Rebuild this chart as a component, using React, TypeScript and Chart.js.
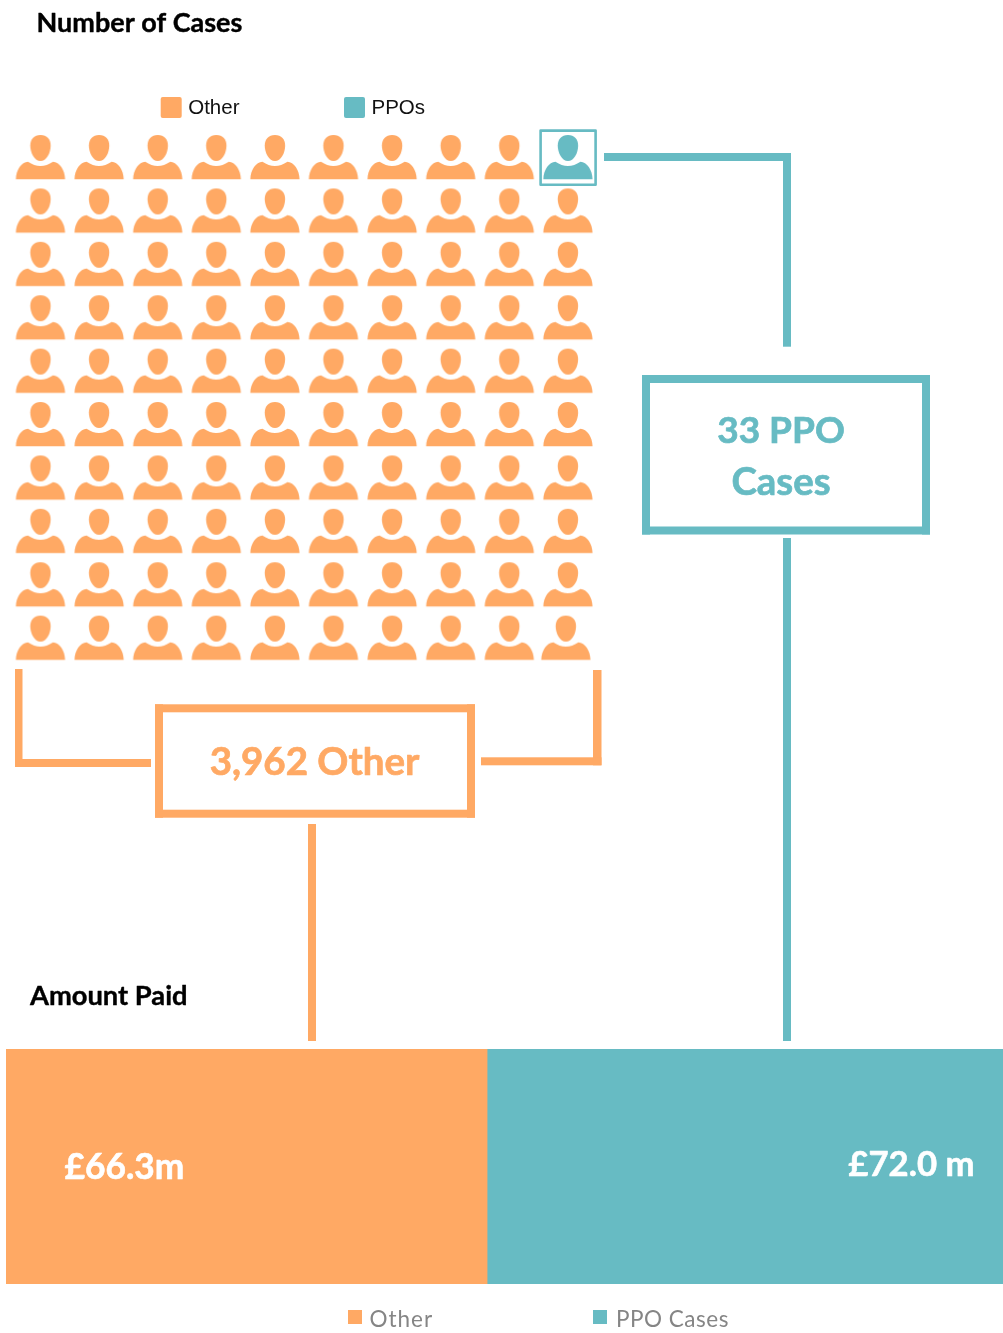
import React, { useEffect, useRef } from "react";
import { Chart, registerables } from "chart.js";

Chart.register(...registerables);

const ORANGE = "#FFA964";
const TEAL = "#67BBC3";
const LATO = "Lato, 'Open Sans', sans-serif";

// Pictogram grid: ten columns by ten rows, first icon of the first row is at (1,1)
const gridColumns = [1, 2, 3, 4, 5, 6, 7, 8, 9, 10];
const gridRows = [1, 2, 3, 4, 5, 6, 7, 8, 9, 10];
const ppoCell = { x: 10, y: 1 };
const lastRowLastColumn = 9.965; // this icon sits slightly left of its column in the picture

const pictogramLegend = ["Other", "PPOs"];
const amountCategories = ["Amount Paid"];
const amountSeriesNames = ["Other", "PPO Cases"];
const otherAmount = [66.3];
const ppoAmount = [72.0];
const amountLabels = ["£66.3m", "£72.0 m"];

const titleCases = "Number of Cases";
const titleAmount = "Amount Paid";
const calloutOther = ["3,962 Other"];
const calloutPpo = ["33 PPO", "Cases"];

function personIcon(color: string): HTMLCanvasElement {
  const c = document.createElement("canvas");
  c.width = 52;
  c.height = 48;
  const g = c.getContext("2d")!;
  g.translate(26, 24);
  g.fillStyle = color;
  // head
  g.beginPath();
  g.moveTo(0, -22);
  g.bezierCurveTo(6.5, -22, 10.2, -17.5, 10.2, -11.5);
  g.bezierCurveTo(10.2, -4, 6, 4, 0, 4);
  g.bezierCurveTo(-6, 4, -10.2, -4, -10.2, -11.5);
  g.bezierCurveTo(-10.2, -17.5, -6.5, -22, 0, -22);
  g.closePath();
  g.fill();
  // shoulders
  g.beginPath();
  g.moveTo(-24.6, 22.3);
  g.bezierCurveTo(-24.4, 13, -19, 5, -12.5, 4.8);
  g.quadraticCurveTo(0, 13.2, 12.5, 4.8);
  g.bezierCurveTo(19, 5, 24.4, 13, 24.6, 22.3);
  g.closePath();
  g.fill();
  return c;
}

function rect(ctx: CanvasRenderingContext2D, x0: number, y0: number, x1: number, y1: number) {
  ctx.fillRect(x0, y0, x1 - x0, y1 - y0);
}

function text(
  ctx: CanvasRenderingContext2D,
  s: string,
  x: number,
  y: number,
  font: string,
  color: string,
  align: CanvasTextAlign = "left",
  spacing = "0px",
  weightStroke = 0
) {
  ctx.font = font;
  ctx.fillStyle = color;
  ctx.textAlign = align;
  ctx.textBaseline = "alphabetic";
  (ctx as any).letterSpacing = spacing;
  if (weightStroke > 0) {
    ctx.strokeStyle = color;
    ctx.lineWidth = weightStroke;
    ctx.lineJoin = "round";
    ctx.strokeText(s, x, y);
  }
  ctx.fillText(s, x, y);
  (ctx as any).letterSpacing = "0px";
}

const pictogramOverlay = {
  id: "pictogramOverlay",
  afterDraw(chart: any) {
    const ctx: CanvasRenderingContext2D = chart.ctx;
    ctx.save();

    text(ctx, titleCases, 36.5, 32, `bold 27px ${LATO}`, "#000", "left", "0px", 0.4);
    text(ctx, titleAmount, 30, 1005, `bold 27.3px ${LATO}`, "#000", "left", "0px", 0.4);

    // legend of the pictogram
    const legendSwatchX = [160.7, 344];
    const legendColors = [ORANGE, TEAL];
    pictogramLegend.forEach((label, i) => {
      ctx.fillStyle = legendColors[i];
      ctx.beginPath();
      (ctx as any).roundRect(legendSwatchX[i], 97, 21, 21, 2);
      ctx.fill();
      text(ctx, label, legendSwatchX[i] + 27.5, 114, "20.5px 'Liberation Sans', Arial, sans-serif", "#111");
    });

    // frame around the highlighted icon
    ctx.strokeStyle = TEAL;
    ctx.lineWidth = 2.6;
    ctx.strokeRect(540.6, 130.6, 55, 54.2);

    // teal connector and callout
    ctx.fillStyle = TEAL;
    rect(ctx, 604, 153, 791, 161);
    rect(ctx, 783, 153, 791, 346.7);
    rect(ctx, 783, 538, 791, 1041);
    rect(ctx, 642, 375, 930, 383);
    rect(ctx, 642, 526.5, 930, 534.5);
    rect(ctx, 642, 375, 650, 534.5);
    rect(ctx, 922, 375, 930, 534.5);
    text(ctx, calloutPpo[0], 781, 443, `bold 37px ${LATO}`, TEAL, "center", "0px", 0.7);
    text(ctx, calloutPpo[1], 781, 495, `bold 38.4px ${LATO}`, TEAL, "center", "0px", 0.7);

    // orange brackets and callout
    ctx.fillStyle = ORANGE;
    rect(ctx, 15, 669, 22.5, 767);
    rect(ctx, 15, 759, 151, 767);
    rect(ctx, 593, 670, 601.5, 765.3);
    rect(ctx, 481, 757.3, 601.5, 765.3);
    rect(ctx, 155, 704.3, 475, 712.3);
    rect(ctx, 155, 809.7, 475, 817.7);
    rect(ctx, 155, 704.3, 163, 817.7);
    rect(ctx, 467, 704.3, 475, 817.7);
    rect(ctx, 308, 824, 316, 1041);
    text(ctx, calloutOther[0], 314.5, 774.5, `bold 38.5px ${LATO}`, ORANGE, "center", "0px", 0.7);

    ctx.restore();
  },
};

const amountOverlay = {
  id: "amountOverlay",
  afterDraw(chart: any) {
    const ctx: CanvasRenderingContext2D = chart.ctx;
    ctx.save();
    const otherBar = chart.getDatasetMeta(0).data[0];
    const top = otherBar.y - otherBar.height / 2;
    text(ctx, amountLabels[0], otherBar.base + 58.5, top + 129.5, `bold 35.3px ${LATO}`, "#fff", "left", "0px", 0.6);
    text(ctx, amountLabels[1], chart.width - 28.5, top + 126.5, `bold 34.7px ${LATO}`, "#fff", "right", "0px", 0.6);

    const swatchX = [348, 593];
    const textX = [369.5, 616];
    const spacing = ["1px", "0.5px"];
    chart.data.datasets.forEach((ds: any, i: number) => {
      ctx.fillStyle = ds.backgroundColor;
      ctx.fillRect(swatchX[i], top + 261, 14, 14);
      text(ctx, ds.label, textX[i], top + 278, `22.5px ${LATO}`, "#858585", "left", spacing[i]);
    });
    ctx.restore();
  },
};

export default function App() {
  const topRef = useRef<HTMLCanvasElement | null>(null);
  const barRef = useRef<HTMLCanvasElement | null>(null);

  useEffect(() => {
    document.body.style.margin = "0";

    const others: { x: number; y: number }[] = [];
    gridRows.forEach((y) =>
      gridColumns.forEach((x) => {
        if (x === ppoCell.x && y === ppoCell.y) return;
        const lastCorner = x === gridColumns[gridColumns.length - 1] && y === gridRows[gridRows.length - 1];
        others.push({ x: lastCorner ? lastRowLastColumn : x, y });
      })
    );

    const picto = new Chart(topRef.current!, {
      type: "scatter",
      data: {
        datasets: [
          {
            label: pictogramLegend[0],
            data: others,
            backgroundColor: ORANGE,
            pointStyle: personIcon(ORANGE) as any,
          },
          {
            label: pictogramLegend[1],
            data: [ppoCell],
            backgroundColor: TEAL,
            pointStyle: personIcon(TEAL) as any,
          },
        ],
      },
      options: {
        animation: false,
        responsive: false,
        layout: { padding: { left: 11.2, top: 130.3, right: 405.8, bottom: 668.7 } },
        scales: {
          x: { type: "linear", display: false, min: 0.5, max: 10.5 },
          y: { type: "linear", display: false, min: 0.5, max: 10.5, reverse: true },
        },
        plugins: { legend: { display: false }, title: { display: false }, tooltip: { enabled: false } },
      },
      plugins: [pictogramOverlay],
    });

    const amount = new Chart(barRef.current!, {
      type: "bar",
      data: {
        labels: amountCategories,
        datasets: [
          { label: amountSeriesNames[0], data: otherAmount, backgroundColor: ORANGE, borderWidth: 0 },
          { label: amountSeriesNames[1], data: ppoAmount, backgroundColor: TEAL, borderWidth: 0 },
        ],
      },
      options: {
        indexAxis: "y",
        animation: false,
        responsive: false,
        barPercentage: 1,
        categoryPercentage: 1,
        layout: { padding: { left: 6, top: 0, right: 0, bottom: 49 } },
        scales: {
          x: { stacked: true, display: false, min: 0, max: 137.4 },
          y: { stacked: true, display: false },
        },
        plugins: { legend: { display: false }, title: { display: false }, tooltip: { enabled: false } },
      },
      plugins: [amountOverlay],
    });

    return () => {
      picto.destroy();
      amount.destroy();
    };
  }, []);

  return (
    <div style={{ position: "relative", width: 1003, height: 1333, overflow: "hidden", background: "#fff" }}>
      <canvas ref={topRef} width={1003} height={1333} style={{ position: "absolute", left: 0, top: 0 }} />
      <canvas ref={barRef} width={1003} height={284} style={{ position: "absolute", left: 0, top: 1049 }} />
    </div>
  );
}
